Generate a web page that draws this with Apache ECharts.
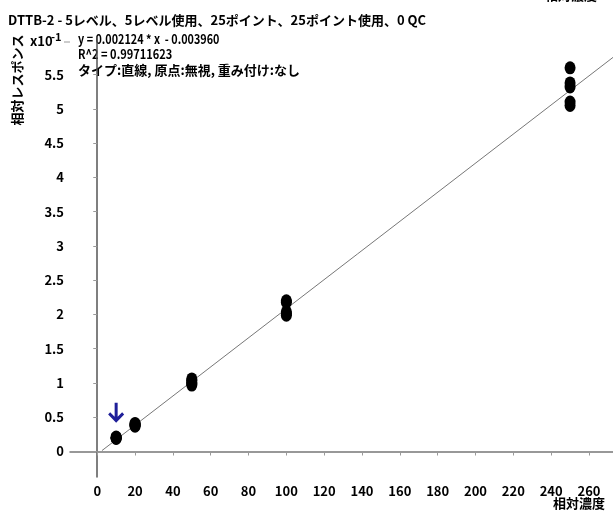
<!DOCTYPE html>
<html><head><meta charset="utf-8">
<script src="https://cdn.jsdelivr.net/npm/echarts@6/dist/echarts.min.js"></script>
<style>html,body{margin:0;padding:0;background:#fff}#c{width:613px;height:513px}</style>
</head><body><div id="c"></div>
<script>
// concentration levels (x) and responses (y, in units of x10^-1)
const xLevels = [10, 20, 50, 100, 250];
const responses = [
  [0.19, 0.20, 0.20, 0.21, 0.20],
  [0.37, 0.38, 0.39, 0.40, 0.41],
  [0.97, 0.99, 1.01, 1.04, 1.06],
  [2.20, 2.18, 2.04, 2.01, 1.99],
  [5.60, 5.38, 5.32, 5.10, 5.05]
];
const xTicks = [0,20,40,60,80,100,120,140,160,180,200,220,240,260];
const yTicks = [0,0.5,1,1.5,2,2.5,3,3.5,4,4.5,5,5.5];
const slope = 0.002124, intercept = -0.003960, r2 = 0.99711623;
const yScale = 10; // axis displayed in x10^-1
const fitStartX = 2.5;
const arrowLevel = 10;
const titleText = 'DTTB-2 - 5レベル、5レベル使用、25ポイント、25ポイント使用、0 QC';
const xName = '相対濃度', yName = '相対レスポンス';

const xMin = -14.4, xMax = 272.7, yMin = -0.372, yMax = 6.05;
const font = '"Noto Sans CJK JP", "Noto Sans", sans-serif';

const pts = [];
xLevels.forEach((x, i) => responses[i].forEach(v => pts.push([x, v])));
const fit = x => (slope * x + intercept) * yScale;
const fitLine = [[fitStartX, fit(fitStartX)], [xMax, fit(xMax)]];
const arrowY = responses[0].reduce((a, b) => a + b, 0) / responses[0].length;

const txt = (extra) => Object.assign({ fontFamily: font, fontSize: 13, fontWeight: 'bold', fill: '#000' }, extra);

const chart = echarts.init(document.getElementById('c'));
chart.setOption({
  animation: false,
  backgroundColor: '#fff',
  title: {
    text: titleText, left: 3, top: 9,
    textStyle: { fontFamily: font, fontSize: 13, fontWeight: 'bold', color: '#000' }
  },
  grid: { left: 70, right: 0, top: 37, bottom: 36, containLabel: false, outerBoundsMode: 'none' },
  xAxis: {
    type: 'value', min: xMin, max: xMax,
    axisLine: { lineStyle: { color: '#777', width: 1.5 } },
    axisTick: { customValues: xTicks, length: 4, lineStyle: { color: '#999' } },
    axisLabel: { customValues: xTicks, margin: 8, fontFamily: font, fontSize: 13, fontWeight: 'bold', color: '#000' },
    splitLine: { show: false }
  },
  yAxis: {
    type: 'value', min: yMin, max: yMax,
    axisLine: { lineStyle: { color: '#555', width: 1.5 } },
    axisTick: { customValues: yTicks, length: 4, lineStyle: { color: '#999' } },
    axisLabel: { customValues: yTicks, margin: 6, fontFamily: font, fontSize: 13, fontWeight: 'bold', color: '#000' },
    splitLine: { show: false }
  },
  graphic: [
    { type: 'text', x: 78, y: 33, scaleX: 0.83, style: txt({ text: 'y = ' + slope.toFixed(6) + ' * x  - ' + Math.abs(intercept).toFixed(6) }) },
    { type: 'text', x: 78, y: 48, scaleX: 0.85, style: txt({ text: 'R^2 = ' + r2.toFixed(8) }) },
    { type: 'text', x: 78, y: 64, style: txt({ text: 'タイプ:直線, 原点:無視, 重み付け:なし' }) },
    { type: 'text', x: 17, y: 80, rotation: Math.PI / 2, style: txt({ text: yName, align: 'center', verticalAlign: 'middle' }) },
    { type: 'text', x: 30, y: 35, style: txt({ text: 'x10' }) },
    { type: 'text', x: 51, y: 31, style: txt({ text: '-1', fontSize: 11 }) },
    { type: 'line', shape: { x1: 64, y1: 42, x2: 70, y2: 42 }, style: { stroke: '#999', lineWidth: 1 } },
    { type: 'text', x: 553, y: 497, style: txt({ text: xName }) },
    { type: 'text', x: 545, y: -11, style: txt({ text: xName }) }
  ],
  series: [
    {
      type: 'line', data: fitLine, symbol: 'none', silent: true,
      lineStyle: { color: '#777', width: 1 }, z: 1
    },
    {
      type: 'scatter', data: pts, symbol: 'circle', symbolSize: [11, 13],
      itemStyle: { color: '#000', opacity: 1 }, z: 2,
      markPoint: {
        symbol: 'path://M3.5,0 L6.5,0 L6.5,14 L11,9.5 L13,11.6 L5,20 L-3,11.6 L-1,9.5 L3.5,14 Z',
        symbolSize: [16, 20], symbolOffset: [0, -25], silent: true,
        itemStyle: { color: '#1f1f99', opacity: 1 }, label: { show: false },
        data: [{ coord: [arrowLevel, arrowY] }]
      }
    }
  ]
});
</script></body></html>
